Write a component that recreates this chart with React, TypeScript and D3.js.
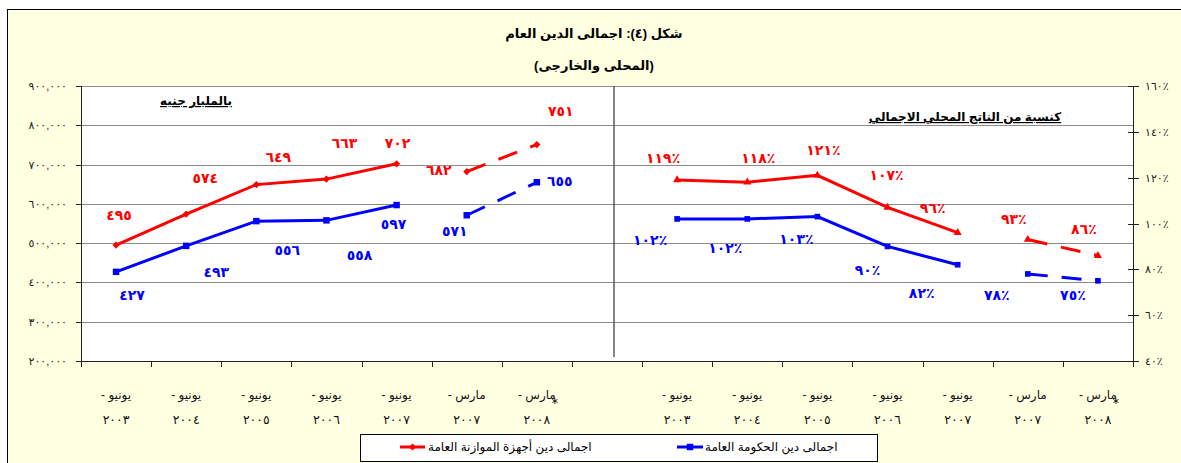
import React from 'react';
import * as d3 from 'd3';

// category labels (two lines each)
const months = ['يونيو -', 'يونيو -', 'يونيو -', 'يونيو -', 'يونيو -', 'مارس -', 'مارس -'];
const years = ['٢٠٠٣', '٢٠٠٤', '٢٠٠٥', '٢٠٠٦', '٢٠٠٧', '٢٠٠٧', '٢٠٠٨'];

// left panel: billion EGP
const budgetDebt = [495, 574, 649, 663, 702, 682, 751];
const govDebt = [427, 493, 556, 558, 597, 571, 655];
// right panel: % of GDP
const budgetPct = [119, 118, 121, 107, 96, 93, 86];
const govPct = [102, 102, 103, 90, 82, 78, 75];

const leftTicks = [200000, 300000, 400000, 500000, 600000, 700000, 800000, 900000];
const rightTicks = [40, 60, 80, 100, 120, 140, 160];

const seriesNames = ['اجمالى دين أجهزة الموازنة العامة', 'اجمالى دين الحكومة العامة'];
const title1 = 'شكل (٤): اجمالى الدين العام';
const title2 = '(المحلى والخارجى)';
const leftHeader = 'بالمليار جنيه';
const rightHeader = 'كنسبة من الناتج المحلي الاجمالي';

// label placement offsets relative to their point (layout only)
const offBudgetL = [[3, -30], [19, -36], [22, -28], [18, -36], [1, -21], [-28, -2], [24, -34]];
const offGovL = [[16, 23], [30, 26], [31, 29], [33, 35], [-3, 19], [-12, 16], [23, -1]];
const offBudgetR = [[-14, -22], [11, -24], [6, -25], [-1, -32], [-25, -25], [-14, -21], [-14, -27]];
const offGovR = [[-27, 21], [-22, 29], [-21, 22], [-20, 24], [-36, 28], [-31, 21], [-25, 14]];

const RED = '#FF0000';
const BLUE = '#0000FF';
const FONT = 'Liberation Sans, DejaVu Sans, sans-serif';

const ar = (s: string) => s.replace(/[0-9]/g, (d) => '٠١٢٣٤٥٦٧٨٩'[+d]);

const plot = { left: 81, right: 1133, top: 86, bottom: 361 };

const keys = [...months.map((_, i) => 'L' + i), 'gap', ...months.map((_, i) => 'R' + i)];
const x = d3.scaleBand<string>().domain(keys).range([plot.left, plot.right]);
const cx = (k: string) => (x(k) as number) + x.bandwidth() / 2;
const yL = d3.scaleLinear().domain([200000, 900000]).range([plot.bottom, plot.top]);
const yR = d3.scaleLinear().domain([40, 160]).range([plot.bottom, plot.top]);

const line = d3.line();
const diamond = 'M0,-3.6L3.6,0L0,3.6L-3.6,0Z';
const square = d3.symbol(d3.symbolSquare, 42)()!;
const squareS = d3.symbol(d3.symbolSquare, 32)()!;
const triangle = d3.symbol(d3.symbolTriangle, 28)()!;
const star = 'M0,-3V3M-2.6,-1.5L2.6,1.5M-2.6,1.5L2.6,-1.5';

function Series({ pts, color, marker, labels, offs }: any) {
  return (
    <g>
      <path d={line(pts.slice(0, 5))!} fill="none" stroke={color} strokeWidth={3} />
      <path d={line(pts.slice(5, 7))!} fill="none" stroke={color} strokeWidth={3} strokeDasharray="20,14" />
      {pts.map((p: number[], i: number) => (
        <path key={i} d={marker} transform={`translate(${p[0]},${p[1]})`} fill={color} />
      ))}
      {pts.map((p: number[], i: number) => (
        <text
          key={'t' + i}
          x={p[0] + offs[i][0]}
          y={p[1] + offs[i][1] + 5}
          textAnchor="middle"
          fill={color}
          fontWeight="bold"
          fontSize={14}
          letterSpacing={2.5}
        >
          {labels[i]}
        </text>
      ))}
    </g>
  );
}

export default function App() {
  const ptsBudgetL = budgetDebt.map((v, i) => [cx('L' + i), yL(v * 1000)]);
  const ptsGovL = govDebt.map((v, i) => [cx('L' + i), yL(v * 1000)]);
  const ptsBudgetR = budgetPct.map((v, i) => [cx('R' + i), yR(v)]);
  const ptsGovR = govPct.map((v, i) => [cx('R' + i), yR(v)]);

  const catLabels = (side: string) =>
    months.map((m, i) => {
      const c = cx(side + i);
      return (
        <g key={side + i}>
          <text x={c} y={399} textAnchor="middle" direction="rtl" fontSize={12} fill="#111">
            {m}
          </text>
          {i === 6 && <path d={star} transform={`translate(${c + 18},${401})`} stroke="#111" strokeWidth={0.9} />}
          <text x={c} y={424} textAnchor="middle" fontSize={12.5} letterSpacing={4} fill="#111">
            {years[i]}
          </text>
        </g>
      );
    });

  return (
    <svg
      width={1181}
      height={463}
      style={{ position: 'absolute', left: 0, top: 0, background: '#fff' }}
      fontFamily={FONT}
    >
      <rect x={7.5} y={9.5} width={1200} height={470} fill="#FFFFE1" stroke="#000" strokeWidth={1} />
      <rect x={plot.left} y={plot.top} width={plot.right - plot.left} height={plot.bottom - plot.top} fill="#fff" />

      {/* gridlines */}
      {leftTicks.slice(1).map((t) => (
        <line key={t} x1={plot.left} x2={plot.right} y1={Math.round(yL(t)) + 0.5} y2={Math.round(yL(t)) + 0.5} stroke="#8c8c8c" />
      ))}

      {/* divider */}
      <line x1={614} x2={614} y1={plot.top} y2={357} stroke="#444" strokeWidth={1.3} />

      {/* titles */}
      <text x={594} y={38} textAnchor="middle" direction="rtl" fontWeight="bold" fontSize={13}>
        {title1}
      </text>
      <text x={594} y={70} textAnchor="middle" direction="rtl" fontWeight="bold" fontSize={13}>
        {title2}
      </text>
      <text x={196} y={105} textAnchor="middle" direction="rtl" fontWeight="bold" fontSize={12} textDecoration="underline">
        {leftHeader}
      </text>
      <text x={965} y={121} textAnchor="middle" direction="rtl" fontWeight="bold" fontSize={12} textDecoration="underline">
        {rightHeader}
      </text>

      {/* left axis */}
      <line x1={plot.left + 0.5} x2={plot.left + 0.5} y1={plot.top} y2={plot.bottom} stroke="#222" />
      {leftTicks.map((t) => (
        <g key={t}>
          <line x1={76} x2={plot.left} y1={Math.round(yL(t)) + 0.5} y2={Math.round(yL(t)) + 0.5} stroke="#222" />
          <text x={67} y={yL(t) + 4} textAnchor="end" fontSize={11} letterSpacing={1.5} fill="#222">
            {ar(d3.format(',')(t))}
          </text>
        </g>
      ))}

      {/* right axis */}
      <line x1={plot.right + 0.5} x2={plot.right + 0.5} y1={plot.top} y2={plot.bottom} stroke="#222" />
      {rightTicks.map((t) => (
        <g key={t}>
          <line x1={plot.right - 5} x2={plot.right + 6} y1={Math.round(yR(t)) + 0.5} y2={Math.round(yR(t)) + 0.5} stroke="#222" />
          <text x={1145} y={yR(t) + 4} fontSize={11} letterSpacing={1.5} fill="#222">
            {ar(String(t)) + '٪'}
          </text>
        </g>
      ))}

      {/* bottom axis */}
      <line x1={plot.left} x2={plot.right + 1} y1={plot.bottom + 0.5} y2={plot.bottom + 0.5} stroke="#222" />
      {[...keys.map((k) => x(k) as number), plot.right].map((v, i) => (
        <line key={i} x1={Math.round(v) + 0.5} x2={Math.round(v) + 0.5} y1={plot.bottom} y2={plot.bottom + 6} stroke="#222" />
      ))}
      {catLabels('L')}
      {catLabels('R')}

      {/* series */}
      <Series pts={ptsBudgetL} color={RED} marker={diamond} labels={budgetDebt.map((v) => ar(String(v)))} offs={offBudgetL} />
      <Series pts={ptsGovL} color={BLUE} marker={square} labels={govDebt.map((v) => ar(String(v)))} offs={offGovL} />
      <Series pts={ptsBudgetR} color={RED} marker={triangle} labels={budgetPct.map((v) => ar(String(v)) + '٪')} offs={offBudgetR} />
      <Series pts={ptsGovR} color={BLUE} marker={squareS} labels={govPct.map((v) => ar(String(v)) + '٪')} offs={offGovR} />

      {/* legend */}
      <rect x={360.5} y={434.5} width={517} height={27} fill="#fff" stroke="#000" />
      <line x1={400} x2={425} y1={447} y2={447} stroke={RED} strokeWidth={3} />
      <path d={diamond} transform="translate(412.5,447)" fill={RED} />
      <text x={428} y={451} fontSize={12} fill="#000">
        {seriesNames[0]}
      </text>
      <line x1={677} x2={703} y1={447} y2={447} stroke={BLUE} strokeWidth={3} />
      <path d={square} transform="translate(690,447)" fill={BLUE} />
      <text x={705} y={451} fontSize={12} fill="#000">
        {seriesNames[1]}
      </text>
    </svg>
  );
}
